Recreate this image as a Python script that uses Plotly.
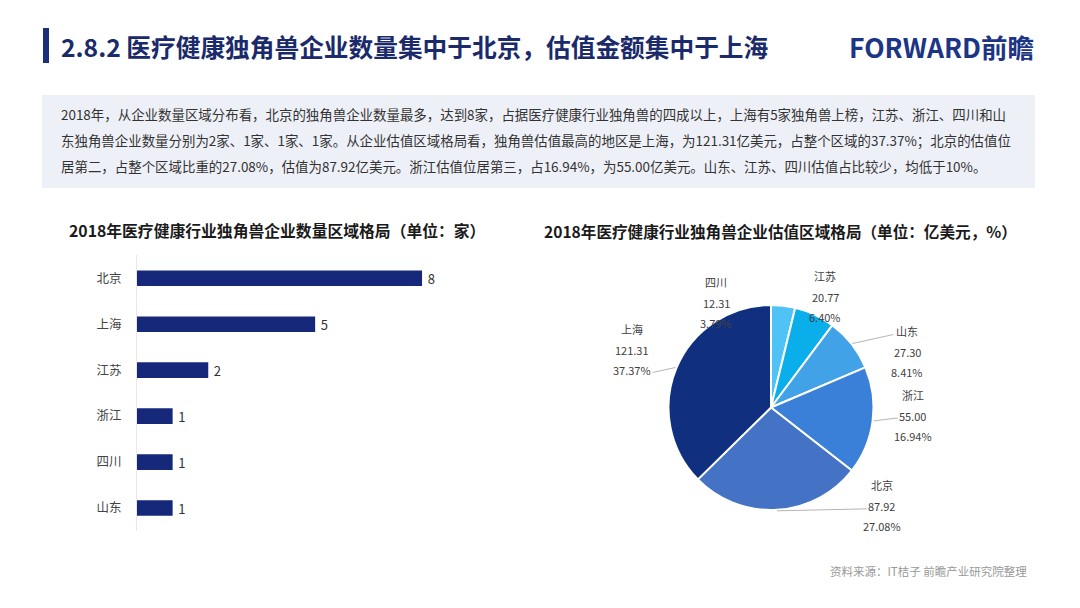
import math
import plotly.graph_objects as go

# ---- data ----
bar_regions = ["北京", "上海", "江苏", "浙江", "四川", "山东"]
bar_counts = [8, 5, 2, 1, 1, 1]

pie_regions = ["四川", "江苏", "山东", "浙江", "北京", "上海"]
pie_values = [12.31, 20.77, 27.30, 55.00, 87.92, 121.31]
pie_colors = ["#4fc3f5", "#0aaeea", "#42a2e8", "#3b80d8", "#4472c4", "#10307f"]

title_text = "2.8.2 医疗健康独角兽企业数量集中于北京，估值金额集中于上海"
para_lines = [
    "2018年，从企业数量区域分布看，北京的独角兽企业数量最多，达到8家，占据医疗健康行业独角兽的四成以上，上海有5家独角兽上榜，江苏、浙江、四川和山",
    "东独角兽企业数量分别为2家、1家、1家、1家。从企业估值区域格局看，独角兽估值最高的地区是上海，为121.31亿美元，占整个区域的37.37%；北京的估值位",
    "居第二，占整个区域比重的27.08%，估值为87.92亿美元。浙江估值位居第三，占16.94%，为55.00亿美元。山东、江苏、四川估值占比较少，均低于10%。",
]
bar_title = "2018年医疗健康行业独角兽企业数量区域格局（单位：家）"
pie_title = "2018年医疗健康行业独角兽企业估值区域格局（单位：亿美元，%）"
source_text = "资料来源：IT桔子 前瞻产业研究院整理"

# label placement (pixel offsets from each slice's outer mid-point) and leader-line ends
label_offsets = [(-67, -2), (10, -17), (55, 8), (39, -5), (105, -5), (-43.5, -18)]
leader_ends = [None, None, (41, -9), (24, -3), (90, -2), (-23, 5)]

W, H = 1080, 608
FONT = "Noto Sans CJK SC"
NAVY = "#16287a"


def px(x):
    return x / W


def py(y):
    return 1 - y / H


# pie geometry (pixels)
PIE_L, PIE_R, PIE_T, PIE_B = 668.5, 873.5, 305, 510
pcx, pcy = (PIE_L + PIE_R) / 2, (PIE_T + PIE_B) / 2
prad = min(PIE_R - PIE_L, PIE_B - PIE_T) / 2

fig = go.Figure()

fig.add_trace(go.Bar(
    x=bar_counts, y=bar_regions, orientation="h",
    marker=dict(color=NAVY, line=dict(width=0)),
    width=0.34,
    texttemplate="\u2009%{x}", textposition="outside",
    constraintext="none",
    textfont=dict(size=13, color="#333333", family=FONT),
    cliponaxis=False, hoverinfo="skip",
))

fig.add_trace(go.Pie(
    labels=pie_regions, values=pie_values, sort=False, direction="clockwise",
    rotation=0,
    marker=dict(colors=pie_colors, line=dict(color="#ffffff", width=2)),
    textinfo="none",
    domain=dict(x=[px(PIE_L), px(PIE_R)], y=[py(PIE_B), py(PIE_T)]),
    showlegend=False, hoverinfo="skip",
))

fig.update_layout(
    width=W, height=H,
    margin=dict(l=0, r=0, t=0, b=0),
    paper_bgcolor="#ffffff", plot_bgcolor="#ffffff",
    font=dict(family=FONT, color="#333333"),
    showlegend=False,
    xaxis=dict(domain=[px(137), px(137 + 9 * 35.63)], range=[0, 9],
               visible=False, fixedrange=True),
    yaxis=dict(domain=[py(531), py(255.3)], autorange="reversed",
               showline=True, linecolor="#e8e8e8", linewidth=1,
               showgrid=False, zeroline=False, ticks="",
               ticklabelstandoff=12, fixedrange=True,
               tickfont=dict(size=12.5, color="#444444", family=FONT)),
)

shapes = [
    dict(type="rect", xref="paper", yref="paper",
         x0=px(43), x1=px(49), y0=py(63), y1=py(28),
         fillcolor="#1b2f7d", line=dict(width=0)),
    dict(type="rect", xref="paper", yref="paper",
         x0=px(42), x1=px(1035), y0=py(188), y1=py(95),
         fillcolor="#eef0f7", line=dict(width=0), layer="below"),
]

ann = []
ann.append(dict(text="<b>" + title_text + "</b>", x=px(59), y=py(46),
                xanchor="left", yanchor="middle",
                font=dict(size=24.7, color="#1a2a6a", family=FONT)))
ann.append(dict(text="<b>FORWARD前瞻</b>", x=px(1036), y=py(47),
                xanchor="right", yanchor="middle",
                font=dict(size=26.5, color="#1c3585", family=FONT)))
for i, line in enumerate(para_lines):
    ann.append(dict(text=line, x=px(59), y=py(114 + 26 * i),
                    xanchor="left", yanchor="middle",
                    font=dict(size=13.45, color="#333333", family=FONT)))
ann.append(dict(text="<b>" + bar_title + "</b>", x=px(67), y=py(231),
                xanchor="left", yanchor="middle",
                font=dict(size=15.8, color="#1a1a1a", family=FONT)))
ann.append(dict(text="<b>" + pie_title + "</b>", x=px(542), y=py(231),
                xanchor="left", yanchor="middle",
                font=dict(size=15.6, color="#1a1a1a", family=FONT)))
ann.append(dict(text=source_text, x=px(1029), y=py(571),
                xanchor="right", yanchor="middle",
                font=dict(size=11.5, color="#999999", family=FONT)))

# pie labels computed from the data (mid-angle of each slice)
total = sum(pie_values)
cum = 0.0
for i, (name, val) in enumerate(zip(pie_regions, pie_values)):
    frac = val / total
    mid = (cum + frac / 2) * 2 * math.pi
    cum += frac
    ex = pcx + (prad + 1) * math.sin(mid)
    ey = pcy - (prad + 1) * math.cos(mid)
    dx, dy = label_offsets[i]
    lines = [name, f"{val:.2f}", f"{frac * 100:.2f}%"]
    for k, t in enumerate(lines):
        ann.append(dict(text=t, x=px(ex), y=py(ey), xanchor="center",
                        yanchor="middle", xshift=dx,
                        yshift=-(dy + (k - 1) * 20.5),
                        font=dict(size=11, color="#404040", family=FONT)))
    if leader_ends[i] is not None:
        lx, ly = leader_ends[i]
        shapes.append(dict(type="line", xref="paper", yref="paper",
                           xsizemode="pixel", ysizemode="pixel",
                           xanchor=px(ex), yanchor=py(ey),
                           x0=0, y0=0, x1=lx, y1=-ly,
                           line=dict(color="#b5b5b5", width=1)))

for a in ann:
    a.update(xref="paper", yref="paper", showarrow=False)
fig.update_layout(annotations=ann, shapes=shapes)

fig.write_html("out.html", config={"displayModeBar": False, "staticPlot": True},
               post_script="document.body.style.margin='0px';document.body.style.padding='0px';")
